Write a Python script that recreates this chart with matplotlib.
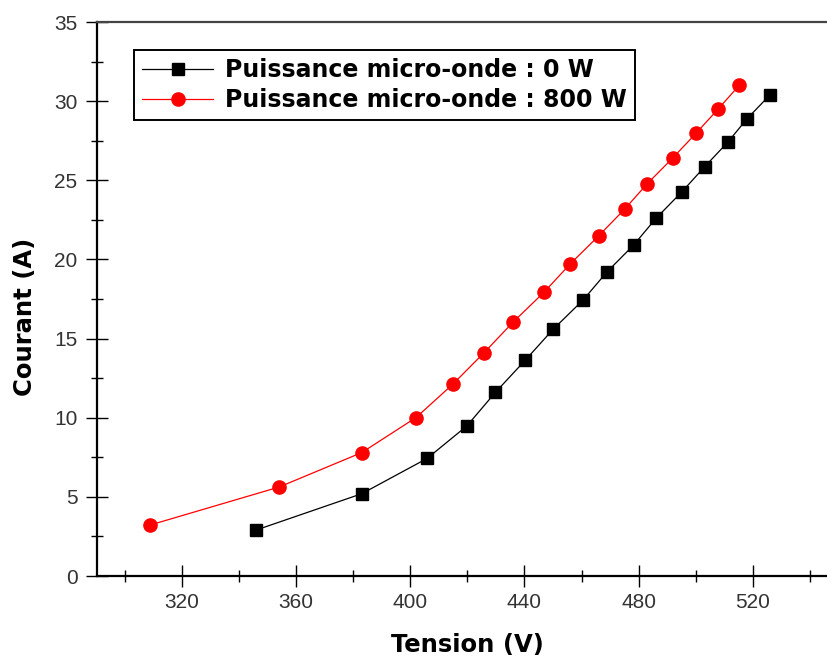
import matplotlib
matplotlib.use("Agg")
import matplotlib.pyplot as plt
from matplotlib.ticker import MultipleLocator

# Data
v_0w = [345.9, 383.0, 405.9, 419.8, 429.8, 440.2, 450.0, 460.5, 468.9, 478.2,
        486.1, 495.1, 503.2, 511.2, 517.9, 526.1]
i_0w = [2.90, 5.20, 7.43, 9.48, 11.60, 13.62, 15.58, 17.43, 19.21, 20.90,
        22.60, 24.26, 25.87, 27.40, 28.87, 30.41]
v_800w = [308.8, 354.0, 383.0, 402.0, 414.9, 425.9, 435.9, 446.9, 456.0, 466.0,
          475.1, 482.9, 492.0, 500.1, 507.8, 515.2]
i_800w = [3.22, 5.62, 7.80, 10.01, 12.12, 14.12, 16.02, 17.94, 19.71, 21.49,
          23.18, 24.76, 26.42, 27.97, 29.49, 30.99]

label_0w = "Puissance micro-onde : 0 W"
label_800w = "Puissance micro-onde : 800 W"
x_label = "Tension (V)"
y_label = "Courant (A)"

plt.rcParams['font.family'] = ['Liberation Sans', 'DejaVu Sans']

fig = plt.figure(figsize=(8.27, 6.58), dpi=100)
ax = fig.add_axes([97/827, 82/658, 730/827, 554/658])

ax.plot(v_0w, i_0w, color='black', lw=0.9, marker='s', ms=8.5,
        mfc='black', mec='black', label=label_0w)
ax.plot(v_800w, i_800w, color='red', lw=0.9, marker='o', ms=9.5,
        mfc='red', mec='red', label=label_800w)

ax.set_xlim(290.2, 546)
ax.set_ylim(0, 35)
ax.xaxis.set_major_locator(MultipleLocator(40))
ax.xaxis.set_minor_locator(MultipleLocator(20))
ax.yaxis.set_major_locator(MultipleLocator(5))
ax.yaxis.set_minor_locator(MultipleLocator(2.5))

ax.spines['right'].set_visible(False)
ax.spines['top'].set_color('#444444')
ax.spines['top'].set_linewidth(1.6)
ax.spines['left'].set_linewidth(1.6)
ax.spines['bottom'].set_linewidth(1.6)

ax.tick_params(which='major', direction='inout', length=16, width=1.0,
               labelsize=15, labelcolor='#333333', pad=6)
ax.tick_params(which='minor', direction='inout', length=8.5, width=1.0)
ax.tick_params(axis='x', which='major', pad=4)

bold = {'family': 'DejaVu Sans', 'weight': 'bold', 'size': 17.5}
ax.set_xlabel(x_label, fontdict=bold)
ax.set_ylabel(y_label, fontdict=bold)
ax.xaxis.set_label_coords(0.507, -0.103)
ax.yaxis.set_label_coords(-0.082, 0.4675)

leg = ax.legend(loc='upper left', bbox_to_anchor=(134/827, 1 - 50/658),
                bbox_transform=fig.transFigure,
                prop={'family': 'DejaVu Sans', 'weight': 'bold', 'size': 17},
                frameon=True, fancybox=False, framealpha=1,
                edgecolor='black', handlelength=3.0, handletextpad=0.5,
                borderpad=0.35, labelspacing=0.25, borderaxespad=0)
leg.get_frame().set_linewidth(1.4)

fig.savefig('out.png', dpi=100)
